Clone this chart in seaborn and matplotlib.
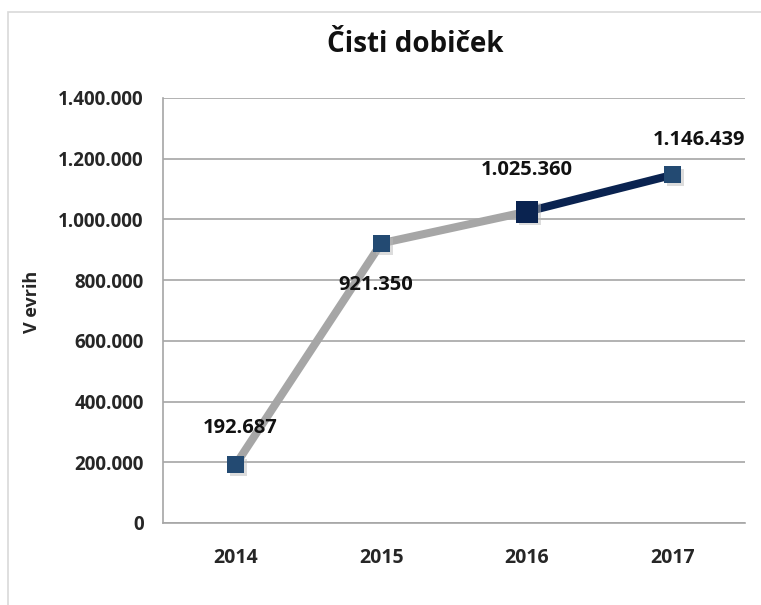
import matplotlib
matplotlib.use("Agg")
import matplotlib.pyplot as plt
import seaborn as sns
import pandas as pd
from matplotlib.patches import Rectangle

years = ["2014", "2015", "2016", "2017"]
values = [192687, 921350, 1025360, 1146439]
labels = ["192.687", "921.350", "1.025.360", "1.146.439"]
yticks = [0, 200000, 400000, 600000, 800000, 1000000, 1200000, 1400000]
ytick_labels = ["0", "200.000", "400.000", "600.000", "800.000", "1.000.000", "1.200.000", "1.400.000"]

sns.set_style("white")
plt.rcParams["font.family"] = ["Open Sans", "DejaVu Sans"]

fig = plt.figure(figsize=(7.61, 6.05), dpi=100)
fig.patches.append(Rectangle((8/761, -0.1), 1.2, 1.1 - 12/605, transform=fig.transFigure,
                             fill=False, edgecolor="#d9d9d9", linewidth=1.2))
ax = fig.add_axes([163/761, 1 - 523/605, (745 - 163)/761, (523 - 98)/605])

idx = list(range(len(years)))
df_gray = pd.DataFrame({"x": idx[:3], "y": values[:3]})
df_dark = pd.DataFrame({"x": idx[2:], "y": values[2:]})
sns.lineplot(data=df_gray, x="x", y="y", ax=ax, color="#a6a6a6", linewidth=5.8, zorder=3)
sns.lineplot(data=df_dark, x="x", y="y", ax=ax, color="#0a2350", linewidth=5.8, zorder=3)

df_m = pd.DataFrame({"x": idx, "y": values})
# shadows
ax.scatter([i + 0.02 for i in idx], [v - 9000 for v in values], marker="s",
           s=[150, 150, 250, 150], color="#bbbbbb", alpha=0.5, zorder=4, linewidths=0)
sns.scatterplot(data=df_m[df_m.x != 2], x="x", y="y", ax=ax, marker="s", s=150,
                color="#234a72", edgecolor="none", zorder=5)
sns.scatterplot(data=df_m[df_m.x == 2], x="x", y="y", ax=ax, marker="s", s=250,
                color="#0a2350", edgecolor="none", zorder=5)

offsets = [(3, 26), (-4, -30), (0, 30), (19, 25)]
for i, (v, lab, off) in enumerate(zip(values, labels, offsets)):
    ax.annotate(lab, (i, v), xytext=off, textcoords="offset points", ha="center", va="center",
                fontsize=14.5, fontweight="bold", color="#111111", zorder=6)

ax.set_xlim(-0.5, 3.5)
ax.set_ylim(0, 1400000)
ax.set_xticks(idx)
ax.set_xticklabels(years, fontsize=14, fontweight="bold")
ax.set_yticks(yticks)
ax.set_yticklabels(ytick_labels, fontsize=13.5, fontweight="bold")
ax.tick_params(axis="x", pad=18, length=0)
ax.tick_params(axis="y", pad=14, length=0)
ax.yaxis.grid(True, color="#a6a6a6", linewidth=1.2)
ax.set_axisbelow(True)
for s in ["top", "right"]:
    ax.spines[s].set_visible(False)
for s in ["left", "bottom"]:
    ax.spines[s].set_color("#a6a6a6")
    ax.spines[s].set_linewidth(1.2)
ax.set_xlabel("")
ax.set_ylabel("V evrih", fontsize=13, fontweight="bold")
ax.yaxis.set_label_coords(-0.21, 0.52)
fig.text(415/761, 1 - 45/605, "Čisti dobiček", ha="center", va="center",
         fontsize=20, fontweight="bold", color="#111111")

fig.savefig("out.png", dpi=100)
